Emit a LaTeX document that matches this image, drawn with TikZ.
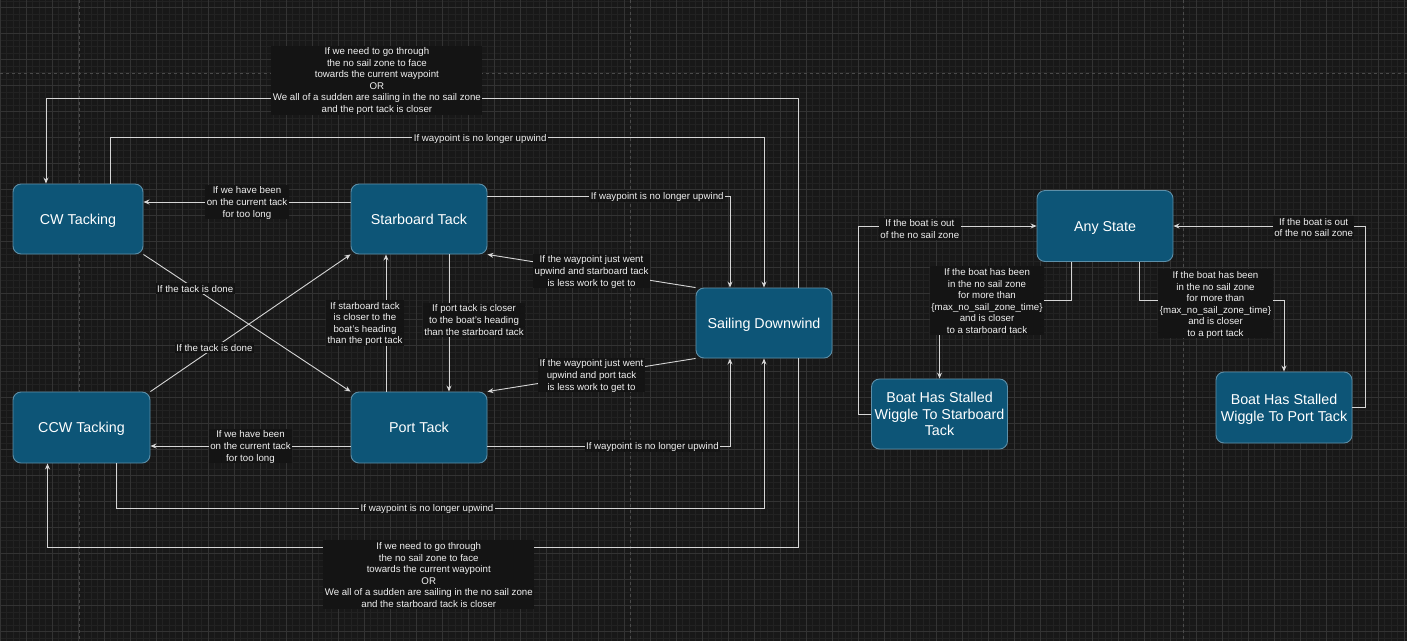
\documentclass[tikz,border=0pt]{standalone}
\usepackage{fontspec}
\setmainfont{Liberation Sans}
\usepackage{xcolor}
\definecolor{c_canvas}{HTML}{181818}
\definecolor{c_minor}{HTML}{222222}
\definecolor{c_major}{HTML}{333333}
\definecolor{c_page}{HTML}{4a4a4a}
\definecolor{c_state}{HTML}{0d5577}
\definecolor{c_border}{HTML}{5d8fa8}
\definecolor{c_edge}{HTML}{d6d6d6}
\definecolor{c_labelbg}{HTML}{141414}
\definecolor{c_text}{HTML}{f0f0f0}
\usetikzlibrary{positioning,calc,arrows.meta}
\tikzset{STATE/.style={rectangle,rounded corners=8pt,draw=c_border,fill=c_state,line width=0.9pt,text=white,align=center,inner sep=2pt,text depth=0pt,minimum width=136pt,minimum height=70pt,font=\fontsize{14.3}{16.7}\selectfont}}
\tikzset{ARROW/.style={draw=c_edge,line width=0.9pt,-{Stealth[length=6pt,width=5pt]}}}
\tikzset{LABEL/.style={fill=c_labelbg,text=c_text,align=center,inner xsep=1.5pt,inner ysep=2pt,text depth=0pt,font=\fontsize{9.7}{11.6}\selectfont}}
\tikzset{GRID_MINOR/.style={draw=c_minor,line width=0.6pt}}
\tikzset{GRID_MAJOR/.style={draw=c_major,line width=0.8pt}}
\tikzset{PAGE_BREAK/.style={draw=c_page,line width=0.8pt,dash pattern=on 3pt off 3pt}}

\begin{document}
\begin{tikzpicture}[x=1pt,y=-1pt]

\useasboundingbox (0,0) rectangle (1407,641);
\fill[c_canvas] (0,0) rectangle (1407,641);

\foreach \i in {0,...,216} {\draw[GRID_MINOR] ({6.5*\i},0) -- ({6.5*\i},641);}
\foreach \i in {0,...,98} {\draw[GRID_MINOR] (0,{0.8+6.5*\i}) -- (1407,{0.8+6.5*\i});}
\foreach \i in {0,...,54} {\draw[GRID_MAJOR] ({26*\i},0) -- ({26*\i},641);}
\foreach \i in {0,...,24} {\draw[GRID_MAJOR] (0,{7.3+26*\i}) -- (1407,{7.3+26*\i});}
\draw[PAGE_BREAK] (0,73) -- (1407,73);
\foreach \px in {79,630,1183} {\draw[PAGE_BREAK] (\px,0) -- (\px,641);}

\node[STATE, minimum width=130pt] (n_cw) at (78,219) {CW Tacking};
\node[STATE] (n_starboard) at (419,219) {Starboard Tack};
\node[STATE, minimum width=137pt, minimum height=71pt] (n_ccw) at (81.5,427.5) {CCW Tacking};
\node[STATE, minimum height=71pt] (n_port) at (419,427.5) {Port Tack};
\node[STATE] (n_downwind) at (764,323) {Sailing Downwind};
\node[STATE, minimum height=71pt] (n_any) at (1105,226) {Any State};
\node[STATE] (n_stall_sb) at (939.5,414) {Boat Has Stalled\\Wiggle To Starboard\\Tack};
\node[STATE, minimum height=71pt] (n_stall_port) at (1284,407.5) {Boat Has Stalled\\Wiggle To Port Tack};

\draw[ARROW] ([xshift=34pt]n_downwind.north) -- ++(0,-189) -| ([xshift=-32pt]n_cw.north)
    node[LABEL, pos=0.28, yshift=18.5pt] {If we need to go through\\the no sail zone to face\\towards the current waypoint\\OR\\We all of a sudden are sailing in the no sail zone\\and the port tack is closer};

\draw[ARROW] ([xshift=32pt]n_cw.north) -- ++(0,-46) -| (n_downwind.north) node[LABEL, pos=0.283] {If waypoint is no longer upwind};

\draw[ARROW] ([yshift=17pt]n_starboard.west) -- ([yshift=17pt]n_cw.east) node[LABEL, midway] {If we have been\\on the current tack\\for too long};

\draw[ARROW] ([yshift=23pt]n_starboard.east) -| ([xshift=-34pt]n_downwind.north) node[LABEL, pos=0.35] {If waypoint is no longer upwind};

\draw[ARROW] (n_cw.south east) -- (n_port.north west) node[LABEL, pos=0.25] {If the tack is done};
\draw[ARROW] (n_ccw.north east) -- (n_starboard.south west) node[LABEL, pos=0.32] {If the tack is done};

\draw[ARROW] ([xshift=-33pt]n_port.north) -- ([xshift=-33pt]n_starboard.south) node[LABEL, midway, xshift=-21pt] {If starboard tack\\is closer to the\\boat's heading\\than the port tack};
\draw[ARROW] ([xshift=30pt]n_starboard.south) -- ([xshift=30pt]n_port.north) node[LABEL, midway, xshift=25pt, yshift=3pt] {If port tack is closer\\to the boat's heading\\than the starboard tack};

\draw[ARROW] (n_downwind.north west) -- (n_starboard.south east) node[LABEL, midway] {If the waypoint just went\\upwind and starboard tack\\is less work to get to};
\draw[ARROW] (n_downwind.south west) -- (n_port.north east) node[LABEL, midway] {If the waypoint just went\\upwind and port tack\\is less work to get to};

\draw[ARROW] ([yshift=-18.5pt]n_port.west) -- ([yshift=-18.5pt]n_ccw.east) node[LABEL, midway] {If we have been\\on the current tack\\for too long};

\draw[ARROW] ([yshift=-18.5pt]n_port.east) -| ([xshift=-34pt]n_downwind.south) node[LABEL, pos=0.34] {If waypoint is no longer upwind};

\draw[ARROW] ([xshift=34.5pt]n_ccw.south) -- ++(0,45) -| (n_downwind.south) node[LABEL, pos=0.24] {If waypoint is no longer upwind};

\draw[ARROW] ([xshift=34pt]n_downwind.south) -- ++(0,189) -| ([xshift=-34pt]n_ccw.south)
    node[LABEL, pos=0.246, yshift=-27.5pt] {If we need to go through\\the no sail zone to face\\towards the current waypoint\\OR\\We all of a sudden are sailing in the no sail zone\\and the starboard tack is closer};

\draw[ARROW] ([xshift=-33.5pt]n_any.south) -- ++(0,38) -| (n_stall_sb.north) node[LABEL, pos=0.32, yshift=-1pt] {If the boat has been\\in the no sail zone\\for more than\\\{max\_no\_sail\_zone\_time\}\\and is closer\\to a starboard tack};
\draw[ARROW] ([xshift=34.5pt]n_any.south) -- ++(0,38) -| (n_stall_port.north) node[LABEL, pos=0.263, yshift=-4pt] {If the boat has been\\in the no sail zone\\for more than\\\{max\_no\_sail\_zone\_time\}\\and is closer\\to a port tack};

\draw[ARROW] (n_stall_sb.west) -- ++(-13,0) |- (n_any.west) node[LABEL, pos=0.673, yshift=-3pt] {If the boat is out\\of the no sail zone};
\draw[ARROW] (n_stall_port.east) -- ++(13,0) |- (n_any.east) node[LABEL, pos=0.635, yshift=-1.5pt] {If the boat is out\\of the no sail zone};

\end{tikzpicture}
\end{document}
